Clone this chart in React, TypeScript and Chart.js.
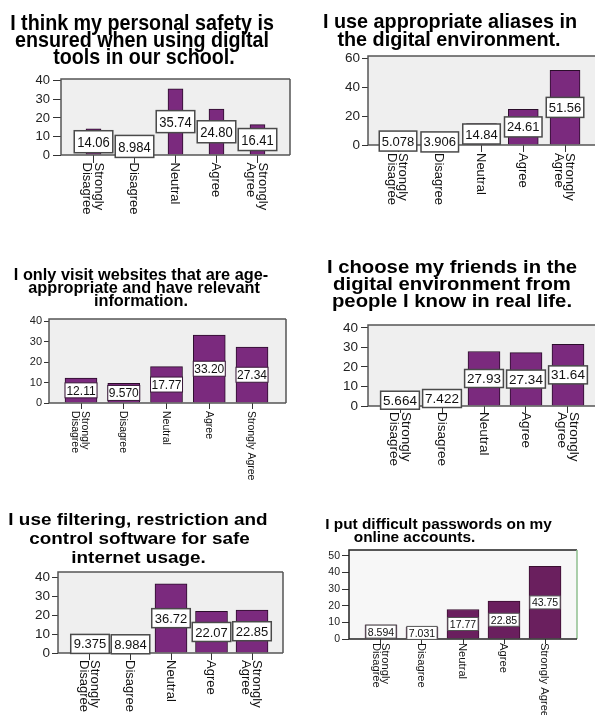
import React, { useEffect, useRef } from "react";
import { Chart, registerables } from "chart.js";

Chart.register(...registerables);

// ---------- data ----------
const categories = ["Strongly Disagree", "Disagree", "Neutral", "Agree", "Strongly Agree"];

const safetyTitle = ["I think my personal safety is", "ensured when using digital", "tools in our school."];
const safetyValues = [14.06, 8.984, 35.74, 24.8, 16.41];
const safetyTicks = [0, 10, 20, 30, 40];

const aliasTitle = ["I use appropriate aliases in", "the digital environment."];
const aliasValues = [5.078, 3.906, 14.84, 24.61, 51.56];
const aliasTicks = [0, 20, 40, 60];

const websiteTitle = ["I only visit websites that are age-", "appropriate and have relevant", "information."];
const websiteValues = [12.11, 9.57, 17.77, 33.2, 27.34];
const websiteTicks = [0, 10, 20, 30, 40];

const friendsTitle = ["I choose my friends in the", "digital environment from", "people I know in real life."];
const friendsValues = [5.664, 7.422, 27.93, 27.34, 31.64];
const friendsTicks = [0, 10, 20, 30, 40];

const filterTitle = ["I use filtering, restriction and", "control software for safe", "internet usage."];
const filterValues = [9.375, 8.984, 36.72, 22.07, 22.85];
const filterTicks = [0, 10, 20, 30, 40];

const passwordTitle = ["I put difficult passwords on my", "online accounts."];
const passwordValues = [8.594, 7.031, 17.77, 22.85, 43.75];
const passwordTicks = [0, 10, 20, 30, 40, 50];

// ---------- presentation ----------
const FAMILY = "'Liberation Sans', Arial, Helvetica, sans-serif";

function wrapLabel(label: string, wrapAgree: boolean): string[] {
  if (label.startsWith("Strongly ") && (wrapAgree || label === "Strongly Disagree")) {
    return ["Strongly", label.slice(9)];
  }
  return [label];
}

type Layout = {
  cell: number[];
  plot: number[];
  yMax: number;
  xMin: number;
  xMax: number;
  title: { size: number; sy: number; cx: number[]; base: number[] };
  yTick: { size: number; len: number; pad: number };
  xLab: { size: number; pitch: number; offset: number; tickLen: number; wrapAgree: boolean; stretch: number };
  barW: number;
  barColor: string;
  barBorder: string;
  box: { size: number; h: number; padX: number; fixedW?: number; borderW: number; border: string; sy: number };
  bg: string;
  frame: string;
  frameRight?: string;
};

const layouts: Record<string, Layout> = {
  safety: {
    cell: [0, 0, 298, 240], plot: [61, 79, 290, 155], yMax: 41, xMin: -0.793, xMax: 4.793,
    title: { size: 19.7, sy: 1.12, cx: [142, 142, 144], base: [29.5, 46.5, 63.5] },
    yTick: { size: 13, len: 8, pad: 3 },
    xLab: { size: 13, pitch: 11.5, offset: 7.5, tickLen: 8, wrapAgree: true, stretch: 1 },
    barW: 15, barColor: "#7b2a7e", barBorder: "#2a0d2a",
    box: { size: 13, h: 22, padX: 3, borderW: 1.5, border: "#4a4a4a", sy: 1.15 },
    bg: "#efefef", frame: "#555",
  },
  alias: {
    cell: [298, 0, 302, 240], plot: [368, 56, 600, 145], yMax: 61.4, xMin: -0.719, xMax: 4.838,
    title: { size: 19.8, sy: 1.0, cx: [450, 449], base: [27.7, 45.7] },
    yTick: { size: 13.5, len: 6, pad: 2 },
    xLab: { size: 13, pitch: 11.5, offset: 8, tickLen: 7, wrapAgree: true, stretch: 1 },
    barW: 30, barColor: "#7b2a7e", barBorder: "#2a0d2a",
    box: { size: 13, h: 20, padX: 2.5, borderW: 1.5, border: "#4a4a4a", sy: 1.0 },
    bg: "#efefef", frame: "#555",
  },
  website: {
    cell: [0, 240, 298, 250], plot: [49, 319, 286, 403], yMax: 41, xMin: -0.749, xMax: 4.795,
    title: { size: 16.3, sy: 1.0, cx: [141, 144, 141], base: [280, 293, 306] },
    yTick: { size: 11, len: 5, pad: 2 },
    xLab: { size: 10.5, pitch: 10, offset: 8, tickLen: 6, wrapAgree: false, stretch: 1 },
    barW: 32, barColor: "#7b2a7e", barBorder: "#2a0d2a",
    box: { size: 12, h: 15, padX: 2, fixedW: 32, borderW: 1, border: "#3a1a3a", sy: 1.0 },
    bg: "#efefef", frame: "#555",
  },
  friends: {
    cell: [298, 240, 302, 250], plot: [368, 325, 600, 406], yMax: 41.5, xMin: -0.762, xMax: 4.762,
    title: { size: 20.3, sy: 0.88, cx: [452, 452, 452], base: [273.3, 290, 306.7] },
    yTick: { size: 13.5, len: 7, pad: 3 },
    xLab: { size: 13.5, pitch: 12, offset: 6, tickLen: 7, wrapAgree: true, stretch: 1 },
    barW: 32, barColor: "#7b2a7e", barBorder: "#2a0d2a",
    box: { size: 13.5, h: 18, padX: 2.5, borderW: 1.5, border: "#4a4a4a", sy: 0.95 },
    bg: "#efefef", frame: "#555",
  },
  filter: {
    cell: [0, 490, 298, 225], plot: [58, 572, 283, 653], yMax: 43, xMin: -0.79, xMax: 4.765,
    title: { size: 18.9, sy: 0.91, cx: [138, 139.5, 138.5], base: [525, 543.5, 562.5] },
    yTick: { size: 13.5, len: 6, pad: 2 },
    xLab: { size: 13, pitch: 11.5, offset: 7, tickLen: 7, wrapAgree: true, stretch: 1 },
    barW: 32, barColor: "#7b2a7e", barBorder: "#2a0d2a",
    box: { size: 13, h: 19, padX: 3, borderW: 1.5, border: "#4a4a4a", sy: 1.0 },
    bg: "#efefef", frame: "#555",
  },
  password: {
    cell: [298, 490, 297, 225], plot: [349, 550, 577, 639], yMax: 53.6, xMin: -0.78, xMax: 4.78,
    title: { size: 15.4, sy: 0.91, cx: [438.5, 414.5], base: [529.3, 541.7] },
    yTick: { size: 10.5, len: 7, pad: 2 },
    xLab: { size: 10, pitch: 9, offset: 4, tickLen: 5, wrapAgree: false, stretch: 1.12 },
    barW: 32, barColor: "#6a1f5e", barBorder: "#3a0f30",
    box: { size: 10.5, h: 13, padX: 2, borderW: 1, border: "#555", sy: 1.0 },
    bg: "#f7f7f7", frame: "#222", frameRight: "#8fbf8f",
  },
};

type PanelData = { title: string[]; values: number[]; ticks: number[] };

function Panel({ data, layout }: { data: PanelData; layout: Layout }) {
  const ref = useRef<HTMLCanvasElement>(null);
  useEffect(() => {
    const canvas = ref.current;
    if (!canvas) return;
    const [cx, cy, cw, ch] = layout.cell;
    const [L, T, R, B] = layout.plot;
    const YW = 40;
    const XH = 20;
    const labels = categories.map((c) => wrapLabel(c, layout.xLab.wrapAgree));

    const panelPlugin = {
      id: "panelDecor",
      beforeDatasetsDraw(chart: any) {
        const { ctx, chartArea: a } = chart;
        ctx.save();
        ctx.fillStyle = layout.bg;
        ctx.fillRect(a.left, a.top, a.right - a.left, a.bottom - a.top);
        ctx.lineWidth = 1.5;
        ctx.strokeStyle = layout.frame;
        ctx.beginPath();
        ctx.moveTo(a.left, a.bottom);
        ctx.lineTo(a.left, a.top);
        ctx.lineTo(a.right, a.top);
        ctx.stroke();
        ctx.beginPath();
        ctx.strokeStyle = layout.frameRight || layout.frame;
        ctx.moveTo(a.right, a.top);
        ctx.lineTo(a.right, a.bottom);
        ctx.stroke();
        ctx.restore();
      },
      afterDatasetsDraw(chart: any) {
        const { ctx, chartArea: a } = chart;
        ctx.save();
        ctx.lineWidth = 1.5;
        ctx.strokeStyle = layout.frame;
        ctx.beginPath();
        ctx.moveTo(a.left, a.bottom);
        ctx.lineTo(a.right, a.bottom);
        ctx.stroke();
        const meta = chart.getDatasetMeta(0);
        const bx = layout.box;
        ctx.font = `${bx.size}px ${FAMILY}`;
        meta.data.forEach((el: any, i: number) => {
          const p = el.getProps(["x", "y", "base"], true);
          const mid = (p.y + p.base) / 2;
          const txt = data.values[i].toPrecision(4);
          const tw = ctx.measureText(txt).width;
          const w = bx.fixedW ?? tw + 2 * bx.padX;
          const h = bx.h;
          ctx.fillStyle = "#fff";
          ctx.fillRect(p.x - w / 2, mid - h / 2, w, h);
          if (bx.borderW) {
            ctx.lineWidth = bx.borderW;
            ctx.strokeStyle = bx.border;
            ctx.strokeRect(p.x - w / 2, mid - h / 2, w, h);
          }
          ctx.save();
          ctx.translate(p.x, mid);
          ctx.scale(1, bx.sy);
          ctx.fillStyle = "#111";
          ctx.textAlign = "center";
          ctx.textBaseline = "middle";
          ctx.fillText(txt, 0, 1);
          ctx.restore();
        });
        ctx.restore();
      },
      afterDraw(chart: any) {
        const { ctx, chartArea: a } = chart;
        const xs = chart.scales.x;
        ctx.save();
        const xl = layout.xLab;
        ctx.font = `${xl.size}px ${FAMILY}`;
        ctx.fillStyle = "#111";
        ctx.textAlign = "left";
        ctx.textBaseline = "alphabetic";
        labels.forEach((lines, i) => {
          const px = xs.getPixelForValue(i);
          const n = lines.length;
          const b0 = px - 1 + ((n - 1) * xl.pitch - 0.51 * xl.size) / 2;
          lines.forEach((line, j) => {
            ctx.save();
            ctx.translate(b0 - j * xl.pitch, a.bottom + xl.offset);
            ctx.rotate(Math.PI / 2);
            ctx.scale(xl.stretch, 1);
            ctx.fillText(line, 0, 0);
            ctx.restore();
          });
        });
        const t = layout.title;
        ctx.font = `bold ${t.size}px ${FAMILY}`;
        ctx.fillStyle = "#000";
        ctx.textAlign = "center";
        data.title.forEach((line, j) => {
          ctx.save();
          ctx.translate(t.cx[j] - cx, t.base[j] - cy);
          ctx.scale(1, t.sy);
          ctx.fillText(line, 0, 0);
          ctx.restore();
        });
        ctx.restore();
      },
    };

    const chart = new Chart(canvas, {
      type: "bar",
      data: {
        datasets: [
          {
            data: data.values.map((v, i) => ({ x: i, y: v })) as any,
            backgroundColor: layout.barColor,
            borderColor: layout.barBorder,
            borderWidth: 1,
            barThickness: layout.barW,
          },
        ],
      },
      options: {
        responsive: false,
        animation: false,
        layout: {
          padding: {
            left: L - cx - YW,
            right: cx + cw - R,
            top: T - cy,
            bottom: cy + ch - B - XH,
          },
        },
        plugins: {
          legend: { display: false },
          tooltip: { enabled: false },
          title: { display: false },
        },
        scales: {
          x: {
            type: "linear",
            offset: false,
            min: layout.xMin,
            max: layout.xMax,
            afterBuildTicks: (s: any) => {
              s.ticks = categories.map((_, i) => ({ value: i }));
            },
            afterFit: (s: any) => {
              s.height = XH;
            },
            ticks: { display: false },
            grid: {
              offset: false,
              drawOnChartArea: false,
              drawTicks: true,
              tickLength: layout.xLab.tickLen,
              color: "#333",
              lineWidth: 1,
            },
            border: { display: false },
          },
          y: {
            type: "linear",
            min: 0,
            max: layout.yMax,
            afterBuildTicks: (s: any) => {
              s.ticks = data.ticks.map((v) => ({ value: v }));
            },
            afterFit: (s: any) => {
              s.width = YW;
            },
            ticks: {
              font: { size: layout.yTick.size, family: FAMILY },
              color: "#222",
              padding: layout.yTick.pad,
              callback: (v: any) => String(v),
            },
            grid: {
              drawOnChartArea: false,
              drawTicks: true,
              tickLength: layout.yTick.len,
              color: "#333",
              lineWidth: 1,
            },
            border: { display: false },
          },
        },
      } as any,
      plugins: [panelPlugin],
    });
    return () => chart.destroy();
  }, []);
  const [cx, cy, cw, ch] = layout.cell;
  return (
    <canvas
      ref={ref}
      width={cw}
      height={ch}
      style={{ position: "absolute", left: cx, top: cy, width: cw, height: ch }}
    />
  );
}

export default function App() {
  return (
    <div
      style={{
        position: "fixed",
        left: 0,
        top: 0,
        width: 595,
        height: 715,
        overflow: "hidden",
        background: "#fff",
      }}
    >
      <Panel data={{ title: safetyTitle, values: safetyValues, ticks: safetyTicks }} layout={layouts.safety} />
      <Panel data={{ title: aliasTitle, values: aliasValues, ticks: aliasTicks }} layout={layouts.alias} />
      <Panel data={{ title: websiteTitle, values: websiteValues, ticks: websiteTicks }} layout={layouts.website} />
      <Panel data={{ title: friendsTitle, values: friendsValues, ticks: friendsTicks }} layout={layouts.friends} />
      <Panel data={{ title: filterTitle, values: filterValues, ticks: filterTicks }} layout={layouts.filter} />
      <Panel data={{ title: passwordTitle, values: passwordValues, ticks: passwordTicks }} layout={layouts.password} />
    </div>
  );
}
